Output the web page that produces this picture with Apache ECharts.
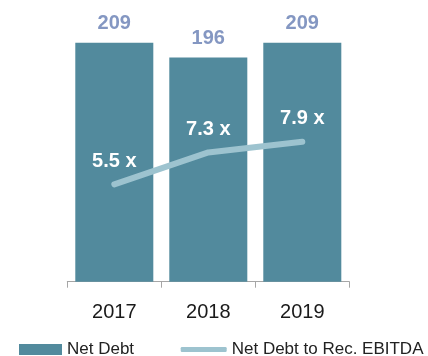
<!DOCTYPE html>
<html>
<head>
<meta charset="utf-8">
<script src="https://cdn.jsdelivr.net/npm/echarts@6/dist/echarts.min.js"></script>
<style>
  html, body { margin: 0; padding: 0; background: #ffffff; }
  #chart { width: 428px; height: 356px; }
</style>
</head>
<body>
<div id="chart"></div>
<script>
// Yearly net debt (bars) and leverage multiple (line)
const years = ['2017', '2018', '2019'];
const netDebt = [209, 196, 209];
const netDebtToEbitda = [5.5, 7.3, 7.9];

const FONT = '"Liberation Sans", Arial, sans-serif';
const BAR_COLOR = '#528a9d';
const LINE_COLOR = '#9dc3cf';

const chart = echarts.init(document.getElementById('chart'), null, { renderer: 'canvas' });

chart.setOption({
  animation: false,
  textStyle: { fontFamily: FONT },
  grid: { left: 67.3, right: 78.7, top: 42.7, bottom: 74.3, containLabel: false },
  legend: [
    {
      left: 14, top: 336, itemWidth: 43, itemHeight: 11,
      data: [{ name: 'Net Debt', icon: 'rect' }],
      textStyle: { fontSize: 17, color: '#222', fontFamily: FONT }
    },
    {
      left: 175.7, top: 336, itemWidth: 46, itemHeight: 5,
      data: [{ name: 'Net Debt to Rec. EBITDA', icon: 'roundRect', itemStyle: { color: LINE_COLOR, opacity: 1 } }],
      textStyle: { fontSize: 17, color: '#222', fontFamily: FONT }
    }
  ],
  xAxis: {
    type: 'category',
    data: years,
    axisLine: { lineStyle: { color: '#a6a6a6', width: 1 } },
    axisTick: { show: true, length: 6, alignWithLabel: false, lineStyle: { color: '#a6a6a6' } },
    axisLabel: { fontSize: 20, color: '#1a1a1a', margin: 21, fontFamily: FONT },
    splitLine: { show: false }
  },
  yAxis: [
    { type: 'value', min: 0, max: 209, show: false, splitLine: { show: false } },
    { type: 'value', min: 0, max: 13.5, show: false, splitLine: { show: false } }
  ],
  series: [
    {
      name: 'Net Debt',
      type: 'bar',
      data: netDebt,
      yAxisIndex: 0,
      barCategoryGap: '17%',
      itemStyle: { color: BAR_COLOR },
      label: {
        show: true, position: 'top', distance: 9,
        fontSize: 20, fontWeight: 'bold', color: '#8497c2', fontFamily: FONT
      }
    },
    {
      name: 'Net Debt to Rec. EBITDA',
      type: 'line',
      data: netDebtToEbitda,
      yAxisIndex: 1,
      symbol: 'circle',
      symbolSize: 2,
      showSymbol: true,
      lineStyle: { color: LINE_COLOR, width: 6, cap: 'round', join: 'round' },
      itemStyle: { color: LINE_COLOR },
      label: {
        show: true, position: 'top', distance: 12,
        fontSize: 20, fontWeight: 'bold', color: '#ffffff', fontFamily: FONT,
        formatter: p => p.value.toFixed(1) + ' x'
      },
      labelLayout: { hideOverlap: false },
      z: 3
    }
  ]
});
</script>
</body>
</html>
